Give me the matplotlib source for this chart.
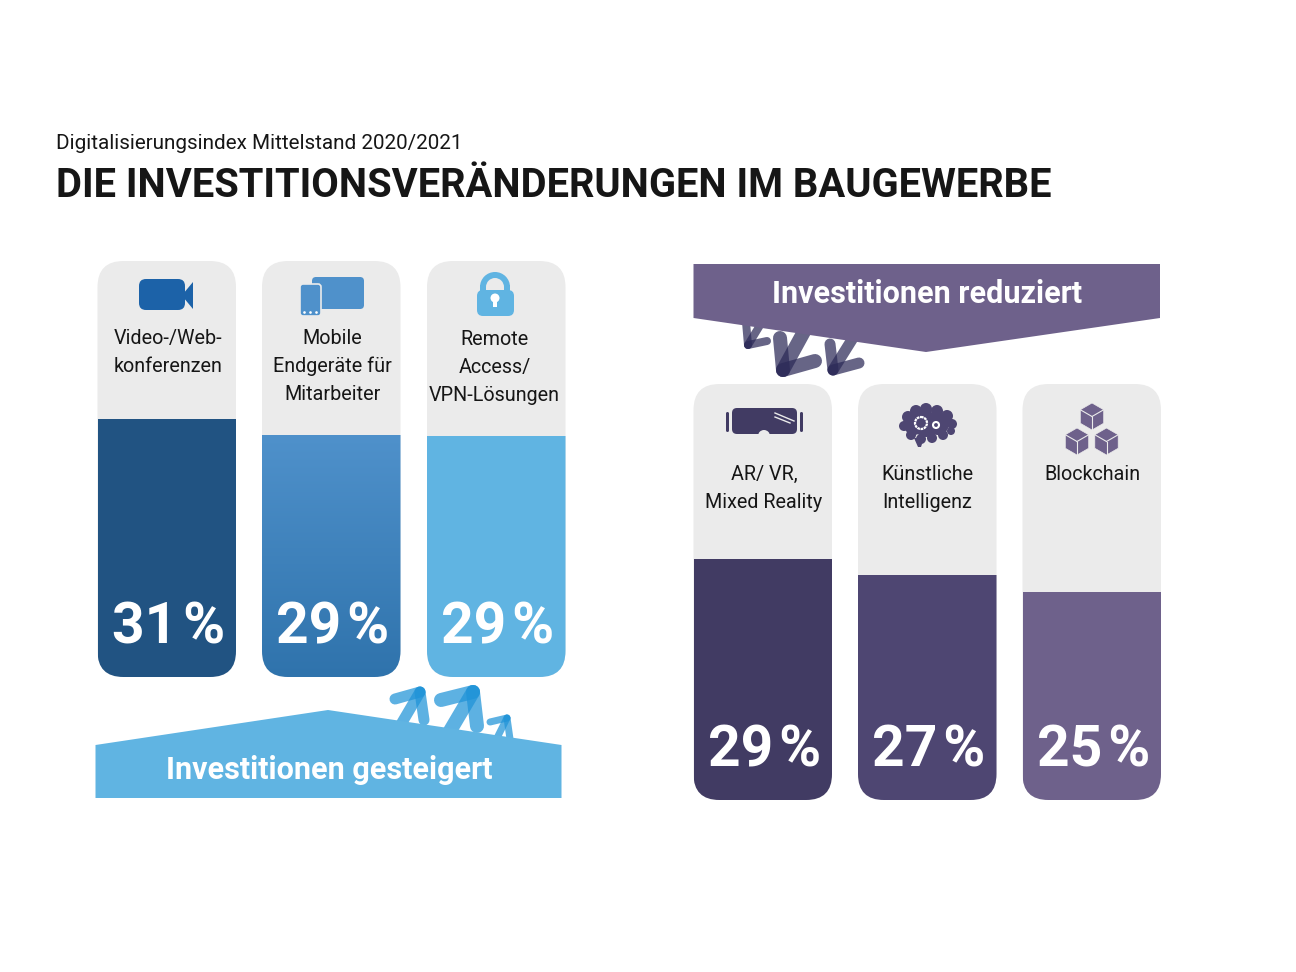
import numpy as np
import matplotlib
matplotlib.use("Agg")
import matplotlib.pyplot as plt
from matplotlib.patches import FancyBboxPatch, Polygon, Circle, Rectangle, Wedge
from matplotlib.colors import LinearSegmentedColormap

plt.rcParams['font.family'] = ['Roboto', 'DejaVu Sans']

# data
subtitle = "Digitalisierungsindex Mittelstand 2020/2021"
title = "DIE INVESTITIONSVERÄNDERUNGEN IM BAUGEWERBE"
up_labels = ["Video-/Web-\nkonferenzen", "Mobile\nEndgeräte für\nMitarbeiter", "Remote\nAccess/\nVPN-Lösungen"]
up_values = [31, 29, 29]
down_labels = ["AR/ VR,\nMixed Reality", "Künstliche\nIntelligenz", "Blockchain"]
down_values = [29, 27, 25]
up_banner = "Investitionen gesteigert"
down_banner = "Investitionen reduziert"

GREY = "#ebebeb"
TEXT = "#161616"
LIGHT = "#60b4e2"
PURPLE = "#6e618b"
PX_PER_PCT = 8.32

fig = plt.figure(figsize=(12.96, 9.72), dpi=100)
ax = fig.add_axes([0, 0, 1, 1])
ax.set_xlim(0, 1296)
ax.set_ylim(972, 0)
ax.axis("off")


def arrow(tip, barb1, barb2, tail, lw, color, z=1):
    # three see-through strokes, the overlap goes darker like in the original
    for end in (barb1, barb2, tail):
        ax.plot([tip[0], end[0]], [tip[1], end[1]], color=color, alpha=0.72, lw=lw * 0.72,
                solid_capstyle="round", zorder=z)


def card(x, top, bottom, width, value, color, gradient=None):
    box = FancyBboxPatch((x, top), width, bottom - top, boxstyle="round,pad=0,rounding_size=26",
                         fc=GREY, ec="none", zorder=2)
    ax.add_patch(box)
    bar_top = bottom - value * PX_PER_PCT
    if gradient:
        cmap = LinearSegmentedColormap.from_list("g", gradient)
        im = ax.imshow(np.linspace(0, 1, 256).reshape(-1, 1), cmap=cmap, aspect="auto",
                       extent=(x, x + width, bottom, bar_top), zorder=3)
        im.set_clip_path(box)
        ax.set_xlim(0, 1296)
        ax.set_ylim(972, 0)
    else:
        bar = Rectangle((x, bar_top), width, bottom - bar_top, fc=color, ec="none", zorder=3)
        ax.add_patch(bar)
        bar.set_clip_path(box)
    ax.text(x + width / 2 + 1.5, bottom - 34, f"{value}\u200a%", color="white", fontsize=41, fontweight="bold",
            ha="center", va="baseline", zorder=5)
    return bar_top


def draw_label(cx, y0, label):
    for i, line in enumerate(label.split("\n")):
        ax.text(cx, y0 + i * 28, line, color=TEXT, fontsize=14.2, ha="center", va="baseline", zorder=5)


def rbox(x, y, w, h, r, color, z=6, ec="none", lw=0):
    p = FancyBboxPatch((x, y), w, h, boxstyle=f"round,pad=0,rounding_size={r}", fc=color, ec=ec, lw=lw, zorder=z)
    ax.add_patch(p)


def cube(cx, cy, r, color):
    dx = r * 0.866
    hexa = [(cx, cy - r), (cx + dx, cy - r / 2), (cx + dx, cy + r / 2),
            (cx, cy + r), (cx - dx, cy + r / 2), (cx - dx, cy - r / 2)]
    ax.add_patch(Polygon(hexa, fc=color, ec=GREY, lw=0.5, zorder=6))
    for px, py in (hexa[1], hexa[3], hexa[5]):
        ax.plot([cx, px], [cy, py], color=GREY, lw=0.8, zorder=7)


# header
ax.text(56, 149, subtitle, color=TEXT, fontsize=14.85, va="baseline")
ax.text(56, 197, title, color=TEXT, fontsize=28.7, fontweight="bold", va="baseline")

# arrows first, banners sit on top of their tails
arrow((420, 692), (395, 699), (424, 720), (400, 726), 11, "#1f93d8")
arrow((473, 692), (441, 700), (477, 726), (447, 736), 14, "#1f93d8")
arrow((507, 718), (490, 722), (510, 739), (495, 742), 7, "#1f93d8")
arrow((748, 345), (746, 322), (767, 341), (762, 322), 8, "#2c2a58")
arrow((783, 370), (780, 338), (815, 361), (806, 328), 14, "#2c2a58")
arrow((833, 370), (830, 344), (859, 363), (853, 338), 11, "#2c2a58")

# banners
ax.add_patch(Polygon([(95.5, 798), (95.5, 745), (328, 710), (561.5, 745), (561.5, 798)], fc=LIGHT, ec="none", zorder=2))
ax.add_patch(Polygon([(693.5, 264), (1160, 264), (1160, 318), (926, 352), (693.5, 318)], fc=PURPLE, ec="none", zorder=2))
ax.text(329, 779, up_banner, color="white", fontsize=22, fontweight="bold", ha="center", va="baseline", zorder=5)
ax.text(927, 303, down_banner, color="white", fontsize=22, fontweight="bold", ha="center", va="baseline", zorder=5)

# cards left
up_x = [97.5, 262, 427]
up_colors = ["#215382", None, LIGHT]
up_grad = [None, ["#4f91cb", "#2f73ac"], None]
up_first_line = [344, 344, 345]
up_centers = [168.5, 332.5, 494.5]
for x, v, lab, c, g, y0, cx in zip(up_x, up_values, up_labels, up_colors, up_grad, up_first_line, up_centers):
    card(x, 261, 677, 138.5, v, c, g)
    draw_label(cx, y0, lab)

# cards right
down_x = [693.5, 858, 1022.5]
down_colors = ["#413b63", "#4e4672", PURPLE]
down_centers = [764, 927, 1092]
for x, v, lab, c, cx in zip(down_x, down_values, down_labels, down_colors, down_centers):
    card(x, 384, 800, 138.5, v, c)
    draw_label(cx, 480, lab)

# icon video
rbox(139, 279, 46, 31, 7, "#1c62a8")
ax.add_patch(Polygon([(183, 294), (193, 282), (193, 309), (183, 297)], fc="#1c62a8", ec="none", zorder=6))

# icon tablet and phone
rbox(312, 277, 52, 32, 4, "#4f91cb")
rbox(300, 284, 21, 32, 3, "#4f91cb", z=7, ec=GREY, lw=1.2)
ax.plot([304, 310, 316], [312, 312, 312], ls="none", marker="o", ms=0.9, color="white", zorder=8)

# icon lock
ax.add_patch(Wedge((495, 287), 15, 180, 360, width=6, fc=LIGHT, ec="none", zorder=6))
ax.add_patch(Rectangle((480, 285), 6, 8, fc=LIGHT, ec="none", zorder=6))
ax.add_patch(Rectangle((504, 285), 6, 8, fc=LIGHT, ec="none", zorder=6))
rbox(477, 290, 37, 26, 6, LIGHT)
ax.add_patch(Circle((495, 298), 4.5, fc="white", ec="none", zorder=7))
ax.add_patch(Rectangle((493, 299), 4, 8, fc="white", ec="none", zorder=7))

# icon vr goggles
rbox(732, 408, 65, 26, 5, "#413b63")
rbox(726, 412, 3, 20, 1.5, "#413b63")
rbox(800, 412, 3, 20, 1.5, "#413b63")
ax.add_patch(Circle((764, 436), 6, fc=GREY, ec="none", zorder=7))
ax.plot([775, 794], [413, 421], color=GREY, lw=1, zorder=7)
ax.plot([775, 790], [417, 423], color=GREY, lw=1, zorder=7)

# icon brain
brain_x = [904, 908, 916, 926, 937, 947, 952, 951, 943, 932, 921, 911, 926, 938, 914]
brain_y = [426, 417, 411, 409, 411, 416, 424, 431, 435, 438, 439, 435, 424, 424, 425]
brain_r = [5, 6, 6, 6, 6, 6, 5, 4, 5, 5, 5, 5, 13, 11, 10]
for bx, by, br in zip(brain_x, brain_y, brain_r):
    ax.add_patch(Circle((bx, by), br, fc="#4e4672", ec="none", zorder=6))
ax.add_patch(Polygon([(914, 438), (924, 438), (921, 447), (918, 447)], fc="#4e4672", ec="none", zorder=6))
ax.add_patch(Circle((921, 423), 6, fc="none", ec="white", lw=1.6, ls=(0, (1.2, 0.3)), zorder=7))
ax.add_patch(Circle((936, 425), 3, fc="none", ec="white", lw=1.5, zorder=7))

# icon blockchain
cube(1092, 416.5, 13.5, PURPLE)
cube(1077, 441.5, 13.5, PURPLE)
cube(1106.5, 441.5, 13.5, PURPLE)

fig.savefig("out.png", dpi=100, facecolor="white")
